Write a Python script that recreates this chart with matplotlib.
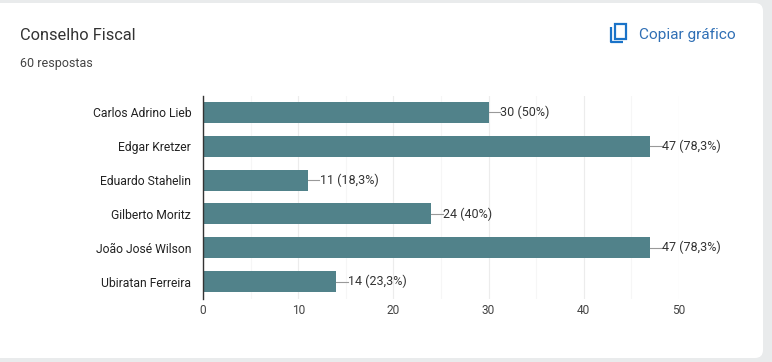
import matplotlib
matplotlib.use('Agg')
import matplotlib.pyplot as plt
from matplotlib.patches import FancyBboxPatch, Rectangle

names = ['Carlos Adrino Lieb', 'Edgar Kretzer', 'Eduardo Stahelin', 'Gilberto Moritz', 'João José Wilson', 'Ubiratan Ferreira']
votes = [30, 47, 11, 24, 47, 14]
shares = ['50%', '78,3%', '18,3%', '40%', '78,3%', '23,3%']
ticks = [0, 10, 20, 30, 40, 50]
minor_ticks = [5, 15, 25, 35, 45]

W, H = 772, 362
plt.rcParams['font.family'] = ['Roboto', 'DejaVu Sans']

fig = plt.figure(figsize=(W / 100, H / 100), dpi=100, facecolor='#e9ebec')

# overlay in pixel coords for the card and header
bg = fig.add_axes([0, 0, 1, 1])
bg.set_xlim(0, W)
bg.set_ylim(H, 0)
bg.axis('off')
bg.add_patch(FancyBboxPatch((-20, 3), 783, 355, boxstyle='round,pad=0,rounding_size=8',
                            fc='white', ec='none'))
bg.text(20, 35.5, 'Conselho Fiscal', fontsize=11.8, color='#333333', va='center')
bg.text(20, 63, '60 respostas', fontsize=9, color='#444444', va='center')
bg.text(639, 34.5, 'Copiar gráfico', fontsize=11.1, color='#2f6fb5', va='center')
# copy icon
bg.add_patch(Rectangle((615, 24), 11, 14.5, fc='none', ec='#1a73c8', lw=1.6))
bg.plot([611, 611, 623], [27, 42, 42], color='#1a73c8', lw=1.6, solid_capstyle='butt')

ax = fig.add_axes([203 / W, 1 - 298.5 / H, (679 - 203) / W, 203 / H])
ax.patch.set_alpha(0)
ax.set_xlim(0, 50)
ax.set_ylim(5.5, -0.5)
ax.set_axisbelow(True)
ax.set_xticks(ticks)
ax.set_xticks(minor_ticks, minor=True)
ax.grid(axis='x', which='major', color='#ececec', lw=0.8)
ax.grid(axis='x', which='minor', color='#f6f6f6', lw=0.8)
ax.tick_params(axis='x', which='both', length=0, pad=4, labelsize=8.6, labelcolor='#444444')
ax.tick_params(axis='y', length=0, pad=8.5, labelsize=8.7, labelcolor='#222222')
ax.set_yticks(range(len(names)))
ax.set_yticklabels(names)
for s in ['top', 'right', 'bottom']:
    ax.spines[s].set_visible(False)
ax.spines['left'].set_color('#333333')
ax.spines['left'].set_linewidth(1)

ax.barh(range(len(names)), votes, height=0.62, color='#51828a')
for i, (v, s) in enumerate(zip(votes, shares)):
    ax.plot([v, v + 1.2], [i, i], color='#999999', lw=0.8)
    ax.text(v + 1.25, i, '%d (%s)' % (v, s), fontsize=9, color='#333333', va='center')

fig.savefig('out.png', dpi=100, facecolor=fig.get_facecolor())
